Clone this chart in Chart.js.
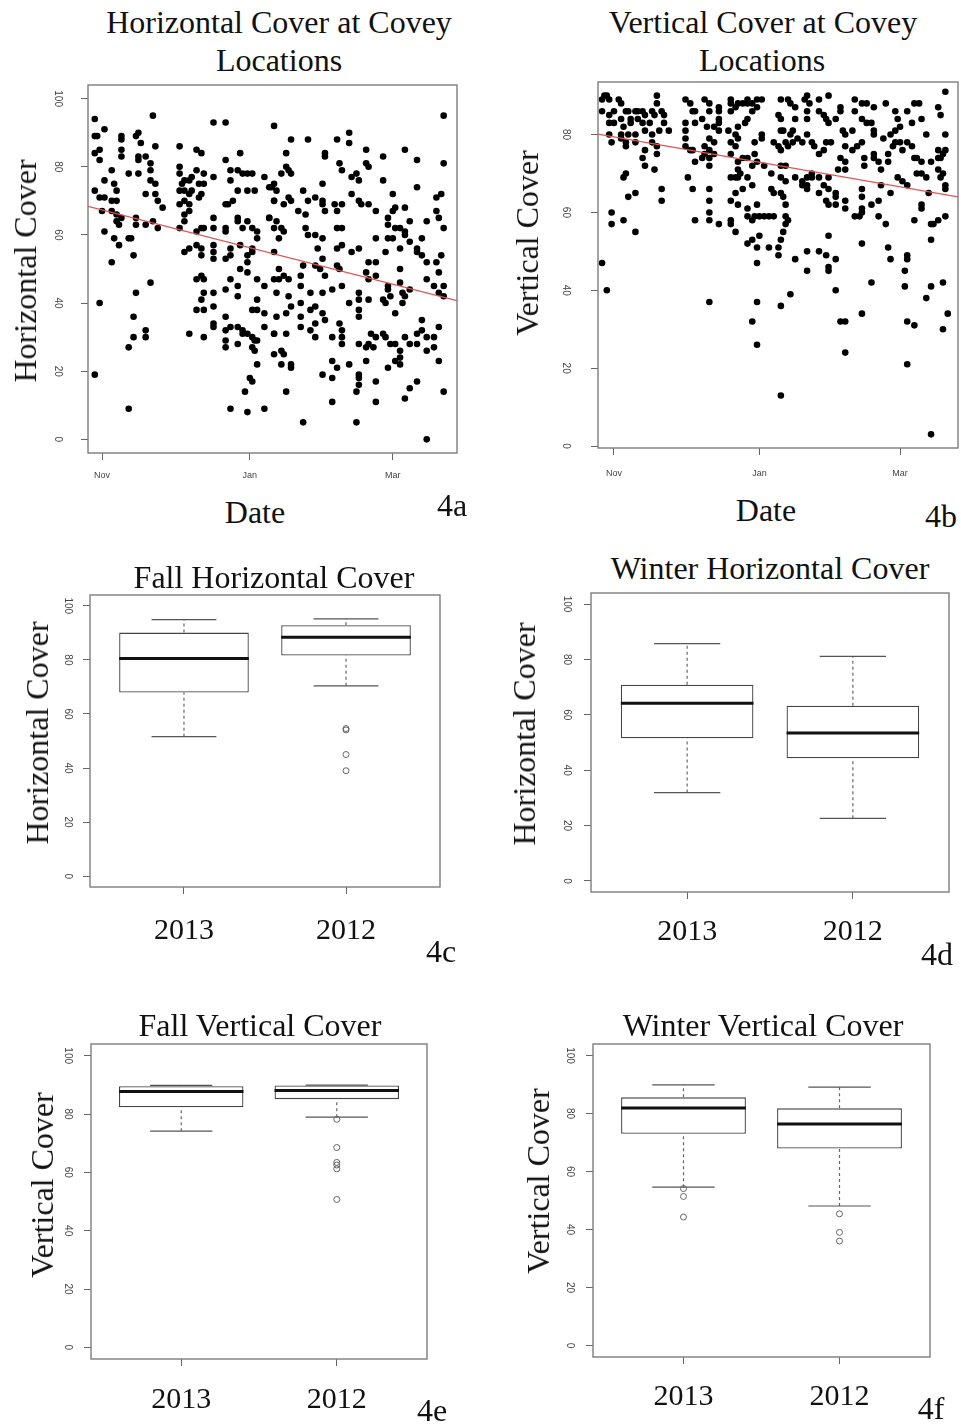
<!DOCTYPE html>
<html>
<head>
<meta charset="utf-8">
<script src="https://cdn.jsdelivr.net/npm/chart.js@4.4.0/dist/chart.umd.min.js"></script>
<style>
body { margin: 0; background: #fff; }
#page { position: relative; width: 961px; height: 1427px; overflow: hidden; font-family: "Liberation Serif", "Times New Roman", serif; color: #111; }
canvas { position: absolute; }
.t { position: absolute; white-space: nowrap; line-height: 1; font-size: 32px; transform: translate(-50%, -50%); }
.yl { position: absolute; white-space: nowrap; line-height: 1; font-size: 32px; transform: translate(-50%, -50%) rotate(-90deg); }
</style>
</head>
<body>
<div id="page">
  <canvas id="c4a"></canvas>
  <canvas id="c4b"></canvas>
  <canvas id="c4c"></canvas>
  <canvas id="c4d"></canvas>
  <canvas id="c4e"></canvas>
  <canvas id="c4f"></canvas>

  <div class="t" style="left:279px;top:22px">Horizontal Cover at Covey</div>
  <div class="t" style="left:279px;top:60px">Locations</div>
  <div class="t" style="left:763px;top:22px">Vertical Cover at Covey</div>
  <div class="t" style="left:762px;top:60px">Locations</div>
  <div class="yl" style="left:25px;top:271px">Horizontal Cover</div>
  <div class="yl" style="left:527px;top:243px">Vertical Cover</div>
  <div class="t" style="left:255px;top:512px">Date</div>
  <div class="t" style="left:766px;top:510px">Date</div>
  <div class="t" style="left:452px;top:505px">4a</div>
  <div class="t" style="left:941px;top:516px">4b</div>

  <div class="t" style="left:274px;top:577px">Fall Horizontal Cover</div>
  <div class="yl" style="left:37px;top:733px">Horizontal Cover</div>
  <div class="t" style="left:441px;top:951px">4c</div>
  <div class="t" style="left:770px;top:568px">Winter Horizontal Cover</div>
  <div class="yl" style="left:524px;top:734px">Horizontal Cover</div>
  <div class="t" style="left:937px;top:954px">4d</div>

  <div class="t" style="left:260px;top:1025px">Fall Vertical Cover</div>
  <div class="yl" style="left:42px;top:1185px">Vertical Cover</div>
  <div class="t" style="left:432px;top:1410px">4e</div>
  <div class="t" style="left:763px;top:1025px">Winter Vertical Cover</div>
  <div class="yl" style="left:538px;top:1181px">Vertical Cover</div>
  <div class="t" style="left:931px;top:1408px">4f</div>
</div>
<script>
// ---- data ----
// days counted from 1 Nov
const monthTickDays = [0, 61, 120]
const monthTickLabels = ['Nov', 'Jan', 'Mar']
const coverTicks = [0, 20, 40, 60, 80, 100]

// 4a: horizontal cover at covey locations [day, cover]
const horizPoints = [
  [-3,94],[1,91],[-3,89],[-2,89],[-1,85],[-3,84],[-1,82],[4,79],[8,89],[8,88],[8,85],[8,83],[14,89],[15,90],[16,87],[21,95],
  [22,86],[15,83],[15,82],[18,83],[20,81],[11,78],[15,78],[20,79],[20,76],[22,75],[1,76],[5,75],[6,73],[-3,73],[-1,71],[1,71],
  [4,70],[6,70],[22,72],[23,70],[25,68],[18,72],[0,67],[4,67],[6,66],[8,65],[14,65],[14,63],[18,63],[21,64],[23,62],[1,61],
  [6,64],[7,63],[5,59],[7,57],[11,59],[12,59],[13,54],[4,52],
  [32,86],[32,80],[32,78],[33,75],[34,76],[36,76],[37,77],[39,85],[41,84],[39,79],[42,78],[40,75],[42,75],[32,73],[34,73],[36,72],
  [37,73],[41,72],[40,71],[34,70],[36,69],[32,69],[36,67],[34,66],[34,64],[32,62],[39,61],[41,62],[42,62],[39,57],[34,55],[36,56],
  [41,56],[41,54],[46,93],[51,93],[46,77],[46,65],[46,62],[46,57],[46,55],[46,53],[51,82],[53,79],[57,84],[53,76],[56,79],[58,78],
  [60,78],[62,78],[56,73],[60,73],[63,73],[67,77],[69,74],[71,70],[52,69],[51,69],[54,70],[56,65],[56,64],[58,62],[60,64],[62,62],
  [64,61],[64,59],[51,62],[51,61],[57,57],[62,56],[62,55],[53,56],[53,54],[51,53],[60,54],[60,52],[69,65],[71,62],[71,55],[71,92],
  [20,46],[-1,40],[14,43],[13,36],[13,30],[11,27],[18,32],[18,30],[-3,19],[11,9],[36,31],[39,47],[41,48],[42,47],[42,43],[46,43],
  [41,41],[39,38],[42,38],[46,39],[46,34],[46,33],[51,44],[51,36],[51,32],[51,29],[51,27],[53,47],[53,33],[56,45],[56,42],[57,50],
  [60,49],[64,47],[67,45],[64,41],[64,38],[62,38],[67,37],[67,33],[56,33],[58,32],[58,31],[56,28],[60,31],[62,30],[63,29],[62,27],
  [63,26],[64,29],[64,22],[61,18],[62,17],[59,14],[53,9],[60,8],[67,9],[71,31],[42,30],
  [78,88],[85,88],[97,88],[102,90],[102,87],[92,84],[92,83],[76,84],[76,80],[77,79],[74,78],[78,78],[71,75],[70,74],[72,73],[71,70],
  [75,69],[77,71],[78,70],[83,73],[85,70],[88,71],[91,75],[91,70],[91,69],[92,67],[96,69],[99,69],[97,67],[81,67],[84,66],[69,65],
  [72,64],[74,62],[75,61],[73,59],[84,62],[85,60],[88,60],[91,59],[97,62],[99,62],[99,57],[97,56],[106,56],[103,55],[89,56],[91,53],
  [98,81],[99,79],[103,77],[105,78],[106,76],[109,85],[109,81],[110,80],[116,83],[116,76],[103,72],[106,70],[107,69],[110,69],[113,67],[120,72],
  [121,68],[120,67],[125,85],[130,82],[130,74],[125,68],[118,65],[118,63],[121,62],[123,62],[125,61],[125,60],[127,64],[134,64],[138,71],[140,72],
  [138,67],[139,65],[141,62],[113,59],[118,59],[120,59],[123,56],[127,58],[130,56],[130,55],[132,59],[132,54],[134,52],[140,54],[138,52],[141,95],
  [141,81],[117,55],[110,52],[113,52],
  [73,50],[71,47],[73,47],[75,48],[77,47],[82,48],[83,51],[88,51],[90,50],[92,48],[97,51],[98,50],[72,43],[77,42],[78,39],[82,40],
  [82,45],[86,43],[91,43],[95,44],[99,45],[72,36],[76,37],[82,36],[82,33],[86,38],[88,39],[91,37],[92,35],[88,34],[86,32],[88,30],
  [98,34],[99,32],[99,30],[99,28],[95,30],[71,31],[76,31],[71,25],[74,26],[75,25],[74,22],[78,22],[78,21],[76,14],[91,19],[95,18],
  [95,23],[97,21],[102,22],[95,11],[83,5],[105,5],[106,18],[106,16],[105,14],[106,19],[102,40],[106,41],[106,43],[106,38],[106,36],[109,49],
  [110,47],[113,48],[110,41],[116,41],[117,40],[118,45],[118,44],[119,42],[123,50],[123,46],[124,43],[127,44],[125,42],[124,40],[121,37],[111,31],
  [113,30],[116,31],[117,30],[119,28],[121,28],[110,28],[112,27],[109,27],[106,28],[109,23],[113,17],[113,11],[118,21],[121,23],[123,26],[123,24],
  [123,22],[125,30],[127,28],[130,28],[130,31],[132,32],[134,30],[137,30],[134,26],[137,27],[139,33],[139,23],[132,35],[130,17],[127,15],[125,12],
  [141,14],[134,0],[134,47],[137,45],[139,43],[141,42],[141,45],[139,49]
]
const horizDayRange = [-5.8, 146.5]
const horizTrend = [68.4, 40.7]

// 4b: vertical cover at covey locations [day, cover]
const vertPoints = [
  [-4,90],[-3,90],[-5,89],[-2,89],[2,89],[3,88],[0,86],[-5,86],[-2,85],[5,86],[6,86],[9,86],[10,86],[12,86],[13,85],[10,84],
  [7,84],[3,84],[0,83],[-2,83],[4,82],[7,83],[12,83],[15,83],[16,86],[18,90],[18,88],[17,85],[20,86],[21,85],[21,83],[19,81],
  [23,81],[3,80],[6,80],[9,80],[13,81],[16,80],[-2,80],[-1,78],[3,79],[5,78],[5,77],[9,78],[13,76],[16,78],[18,77],[18,75],
  [12,74],[13,72],[17,71],[5,70],[4,69],[6,64],[9,65],[20,66],[20,63],[-1,60],[-1,57],[4,58],[9,55],[-5,47],
  [30,89],[32,88],[33,86],[34,86],[30,83],[30,81],[30,79],[34,83],[37,84],[38,89],[40,88],[40,86],[39,82],[42,82],[44,87],[44,86],
  [44,84],[44,83],[44,81],[40,79],[42,78],[38,77],[40,76],[38,75],[42,75],[40,74],[37,74],[34,73],[33,76],[32,76],[30,77],[40,72],
  [31,69],[33,66],[40,66],[40,63],[40,60],[40,58],[44,57],[34,58],[49,89],[49,88],[51,87],[49,86],[52,88],[54,88],[56,89],[56,88],
  [58,88],[60,89],[62,89],[60,87],[58,86],[56,84],[55,83],[52,82],[51,80],[49,78],[51,77],[48,81],[52,79],[59,78],[62,79],[62,80],
  [67,78],[49,75],[52,73],[54,74],[56,74],[59,75],[60,73],[63,72],[58,72],[52,71],[53,70],[56,69],[49,69],[51,69],[52,69],[58,67],
  [54,66],[66,70],[66,66],[67,65],[51,65],[49,63],[52,62],[56,61],[60,62],[56,59],[58,58],[59,59],[61,59],[63,59],[65,59],[67,59],
  [49,58],[49,57],[51,55],[56,52],[58,53],[60,51],[65,51],[61,54],[60,47],[69,51],
  [-3,40],[40,37],[60,37],[58,32],[60,26],
  [70,89],[69,85],[70,84],[71,81],[70,81],[73,89],[74,88],[76,87],[76,84],[75,81],[74,80],[72,78],[70,76],[69,77],[73,77],[75,78],
  [77,79],[79,78],[81,80],[81,90],[80,89],[82,88],[81,86],[81,84],[86,89],[86,86],[90,90],[88,85],[89,84],[90,83],[93,84],[95,87],
  [95,86],[96,81],[97,80],[100,81],[101,89],[101,86],[104,88],[106,88],[109,87],[104,84],[106,83],[108,83],[109,81],[109,80],[114,88],[118,86],
  [119,84],[120,82],[123,86],[126,88],[125,83],[129,84],[131,80],[128,88],[136,87],[137,85],[139,91],[97,77],[100,76],[102,77],[104,78],[83,78],
  [84,77],[86,75],[89,78],[88,76],[91,78],[95,74],[97,73],[97,71],[94,71],[105,74],[105,72],[109,75],[109,74],[111,73],[112,71],[115,73],
  [115,75],[117,77],[118,78],[118,81],[116,80],[113,79],[120,78],[121,76],[123,78],[125,77],[126,74],[127,74],[129,73],[133,73],[136,74],[137,74],
  [138,75],[139,76],[136,76],[136,71],[138,70],[137,69],[139,67],[139,66],[139,80],[70,72],[72,72],[70,69],[72,68],[70,65],[71,64],[72,62],
  [76,69],[79,68],[79,67],[81,69],[83,70],[83,69],[81,67],[81,66],[86,69],[90,69],[86,65],[88,67],[90,66],[89,63],[90,62],[93,65],
  [93,64],[93,62],[97,63],[97,61],[101,59],[104,64],[104,66],[104,61],[104,60],[103,59],[108,62],[111,63],[112,67],[116,65],[111,59],[119,69],
  [121,68],[123,67],[127,70],[129,70],[131,69],[132,65],[129,62],[129,61],[133,57],[134,57],[136,58],[139,59],[126,58],[133,53],[72,59],[73,58],
  [72,57],[70,53],[71,55],[69,49],[76,48],[81,50],[86,50],[89,49],[90,54],[93,48],[104,52],[114,57],[115,51],[116,48],[123,49],[123,48],
  [90,45],
  [81,45],[90,46],[70,36],[74,39],[93,40],[108,42],[95,32],[97,32],[97,24],[104,34],[122,45],[122,41],[123,32],[126,31],[123,21],[131,38],
  [133,41],[138,42],[140,34],[138,30],[70,13],[133,3]
]
const vertDayRange = [-6.7, 144.3]
const vertTrend = [80.1, 64.0]

// box plots: [lower whisker, Q1, median, Q3, upper whisker]
const boxYears = ['2013', '2012']
const fallHoriz2013 = [51.6, 67.9, 80.5, 90.1, 94.9]
const fallHoriz2012 = [70.4, 81.6, 88.4, 92.8, 95.2]
const fallHorizOut2013 = []
const fallHorizOut2012 = [54.1, 54.6, 45.0, 39.0]
const winterHoriz2013 = [31.9, 51.5, 64.2, 70.9, 85.7]
const winterHoriz2012 = [22.6, 44.3, 53.4, 63.3, 81.1]
const fallVert2013 = [74.1, 82.3, 87.7, 89.5, 89.8]
const fallVert2012 = [78.9, 85.1, 88.1, 89.8, 89.9]
const fallVertOut2013 = []
const fallVertOut2012 = [78.2, 68.5, 63.4, 62.5, 61.2, 50.7]
const winterVert2013 = [54.6, 73.0, 81.9, 85.6, 89.9]
const winterVert2012 = [48.1, 67.9, 76.4, 81.8, 89.1]
const winterVertOut2013 = [54.1, 51.4, 44.3]
const winterVertOut2012 = [45.4, 39.0, 36.0]

// ---- drawing ----
const PAD = 3
const frame = {
    id: 'frame',
    afterDraw(chart) {
        const a = chart.chartArea
        const ctx = chart.ctx
        ctx.save()
        ctx.strokeStyle = '#7d7d7d'
        ctx.lineWidth = 1.4
        ctx.strokeRect(a.left, a.top, a.right - a.left, a.bottom - a.top)
        ctx.restore()
    }
}

// position the canvas so that its chart area lands on [left, top, right, bottom]
function place(id, area, yW, xH) {
    let c = document.getElementById(id)
    c.style.left = (area[0] - yW) + 'px'
    c.style.top = (area[1] - PAD) + 'px'
    c.width = area[2] - area[0] + yW + PAD
    c.height = area[3] - area[1] + PAD + xH
    return c
}

function noPadding(s) {
    s.paddingTop = 0
    s.paddingBottom = 0
    s.paddingLeft = 0
    s.paddingRight = 0
}

function yScale(min, max, ticks, yW, pad) {
    return {
        type: 'linear', position: 'left', min: min, max: max,
        afterBuildTicks: s => { s.ticks = ticks.map(v => ({ value: v })) },
        afterFit: s => { s.width = yW; noPadding(s) },
        grid: { drawOnChartArea: false, offset: false, tickLength: 7, tickColor: '#666' },
        border: { display: false },
        ticks: {
            minRotation: -90, maxRotation: -90, crossAlign: 'center', padding: pad,
            color: '#444', font: { family: 'Liberation Sans', size: 10 }
        }
    }
}

function xScale(min, max, ticks, labels, xH, pad, font, color) {
    return {
        type: 'linear', position: 'bottom', min: min, max: max, offset: false,
        afterBuildTicks: s => { s.ticks = ticks.map(v => ({ value: v })) },
        afterFit: s => { s.height = xH; noPadding(s) },
        grid: { drawOnChartArea: false, offset: false, tickLength: 7, tickColor: '#666' },
        border: { display: false },
        ticks: {
            autoSkip: false, maxRotation: 0, minRotation: 0, padding: pad,
            color: color, font: font,
            callback: (v, i) => labels[i]
        }
    }
}

function baseOptions(scales) {
    return {
        responsive: false,
        animation: false,
        devicePixelRatio: 1,
        layout: { padding: { top: PAD, right: PAD, left: 0, bottom: 0 } },
        plugins: { legend: { display: false }, tooltip: { enabled: false } },
        scales: scales
    }
}

function create_scatter(id, area, points, dayRange, trend, yMin, yMax, yTicks, yPad, xPad) {
    let chart = place(id, area, 60, 36)
    new Chart(chart, {
        type: 'scatter',
        data: {
            datasets: [
                {
                    data: [{ x: dayRange[0], y: trend[0] }, { x: dayRange[1], y: trend[1] }],
                    showLine: true,
                    borderColor: '#e05555',
                    borderWidth: 1.3,
                    pointRadius: 0
                },
                {
                    data: points.map(p => ({ x: p[0], y: p[1] })),
                    pointRadius: 3.3,
                    backgroundColor: '#000',
                    borderWidth: 0
                }
            ]
        },
        options: baseOptions({
            x: xScale(dayRange[0], dayRange[1], monthTickDays, monthTickLabels, 36, xPad,
                { family: 'Liberation Sans', size: 9 }, '#444'),
            y: yScale(yMin, yMax, yTicks, 60, yPad)
        }),
        plugins: [frame]
    })
}

function create_boxplot(id, area, stats, outliers, yPad, xPad) {
    let chart = place(id, area, 60, 62)
    let whiskers = [], caps = [], medians = [], outs = []
    stats.forEach((s, i) => {
        let x = i + 1
        whiskers.push({ x: x, y: s[0] }, { x: x, y: s[1] }, { x: x, y: null },
                      { x: x, y: s[3] }, { x: x, y: s[4] }, { x: x, y: null })
        caps.push({ x: x - 0.2, y: s[0] }, { x: x + 0.2, y: s[0] }, { x: x, y: null },
                  { x: x - 0.2, y: s[4] }, { x: x + 0.2, y: s[4] }, { x: x, y: null })
        medians.push({ x: x - 0.4, y: s[2] }, { x: x + 0.4, y: s[2] }, { x: x, y: null })
        outliers[i].forEach(v => outs.push({ x: x, y: v }))
    })
    new Chart(chart, {
        type: 'scatter',
        data: {
            datasets: [
                { data: medians, showLine: true, borderColor: '#111', borderWidth: 3, pointRadius: 0, order: 0 },
                { data: outs, pointRadius: 3, backgroundColor: 'rgba(0,0,0,0)', borderColor: '#666', borderWidth: 1, order: 1 },
                { data: caps, showLine: true, borderColor: '#555', borderWidth: 1.2, pointRadius: 0, order: 2 },
                { data: whiskers, showLine: true, borderColor: '#666', borderWidth: 1.2, borderDash: [3, 3], pointRadius: 0, order: 3 },
                {
                    type: 'bar',
                    data: stats.map((s, i) => ({ x: i + 1, y: [s[1], s[3]] })),
                    backgroundColor: '#fff',
                    borderColor: '#444',
                    borderWidth: 1.3,
                    borderSkipped: false,
                    barPercentage: 0.8,
                    categoryPercentage: 1,
                    order: 4
                }
            ]
        },
        options: baseOptions({
            x: xScale(0.42, 2.58, [1, 2], boxYears, 62, xPad,
                { family: 'Liberation Serif', size: 30 }, '#111'),
            y: yScale(-4, 104, coverTicks, 60, yPad)
        }),
        plugins: [frame]
    })
}

create_scatter('c4a', [88, 84, 458, 453], horizPoints, horizDayRange, horizTrend, -4, 104, coverTicks, 14.5, 10.5)
create_scatter('c4b', [598, 81, 959, 448], vertPoints, vertDayRange, vertTrend, -0.5, 93.5, [0, 20, 40, 60, 80], 20, 13.5)

create_boxplot('c4c', [90, 593, 442, 887], [fallHoriz2013, fallHoriz2012], [fallHorizOut2013, fallHorizOut2012], 6.7, 19)
create_boxplot('c4d', [591, 593, 949, 892], [winterHoriz2013, winterHoriz2012], [[], []], 8.7, 15)
create_boxplot('c4e', [91, 1042, 429, 1359], [fallVert2013, fallVert2012], [fallVertOut2013, fallVertOut2012], 7.7, 16)
create_boxplot('c4f', [593, 1042, 932, 1357], [winterVert2013, winterVert2012], [winterVertOut2013, winterVertOut2012], 7.7, 15)
</script>
</body>
</html>
